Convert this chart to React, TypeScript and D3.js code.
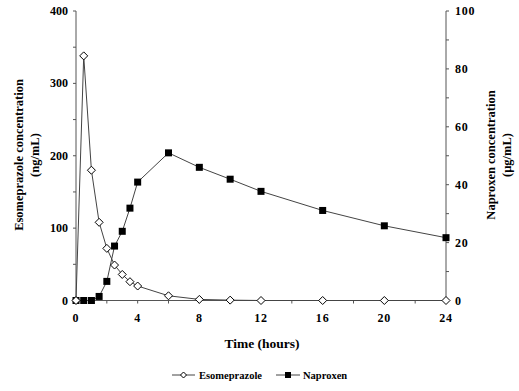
import React from "react";
import * as d3 from "d3";

const times = [0, 0.5, 1, 1.5, 2, 2.5, 3, 3.5, 4, 6, 8, 10, 12, 16, 20, 24];
const esomeprazole = [0, 338, 180, 108, 72, 49, 36, 26, 20, 6.5, 1.5, 0.5, 0, 0, 0, 0];
const naproxen = [0, 0, 0, 1.4, 6.6, 18.8, 23.9, 31.9, 40.9, 51, 46, 41.9, 37.7, 31.1, 25.8, 21.7];
const xTicks = [0, 4, 8, 12, 16, 20, 24];
const leftTicks = [0, 100, 200, 300, 400];
const rightTicks = [0, 20, 40, 60, 80, 100];

const W = 519;
const H = 391;
const font = "'Liberation Serif', 'Times New Roman', serif";
const axisColor = "#555";

export default function App() {
  const x = d3.scaleLinear().domain([0, 24]).range([76, 446]);
  const yL = d3.scaleLinear().domain([0, 400]).range([300.5, 11]);
  const yR = d3.scaleLinear().domain([0, 100]).range([300.5, 11]);

  const esoPts = times.map((t, i) => [x(t), yL(esomeprazole[i])] as [number, number]);
  const napPts = times.map((t, i) => [x(t), yR(naproxen[i])] as [number, number]);
  const line = d3.line();

  const diamond = (cx: number, cy: number, r = 4) =>
    `M${cx},${cy - r}L${cx + r},${cy}L${cx},${cy + r}L${cx - r},${cy}Z`;

  return (
    <svg
      width={W}
      height={H}
      style={{ position: "absolute", left: 0, top: 0, background: "#fff" }}
      fontFamily={font}
      fontWeight="bold"
    >
      {/* axes */}
      <line x1={x(0)} x2={x(24)} y1={yL(0)} y2={yL(0)} stroke={axisColor} />
      <line x1={x(0)} x2={x(0)} y1={yL(0)} y2={yL(400)} stroke={axisColor} />
      <line x1={x(24)} x2={x(24)} y1={yR(0)} y2={yR(100)} stroke={axisColor} />

      {/* bottom ticks every 2h */}
      {d3.range(0, 25, 2).map((t) => (
        <line key={"xt" + t} x1={x(t)} x2={x(t)} y1={yL(0)} y2={yL(0) + 3} stroke={axisColor} />
      ))}
      {xTicks.map((t) => (
        <text key={"xl" + t} x={x(t)} y={322} textAnchor="middle" fontSize={12} letterSpacing={0.8}>
          {t}
        </text>
      ))}

      {/* left ticks every 50 */}
      {d3.range(0, 401, 50).map((v) => (
        <line key={"lt" + v} x1={x(0) - 3} x2={x(0)} y1={yL(v)} y2={yL(v)} stroke={axisColor} />
      ))}
      {leftTicks.map((v) => (
        <text key={"ll" + v} x={68} y={yL(v) + 4} textAnchor="end" fontSize={12}>
          {v}
        </text>
      ))}

      {/* right ticks every 10 */}
      {d3.range(0, 101, 10).map((v) => (
        <line key={"rt" + v} x1={x(24)} x2={x(24) + 3} y1={yR(v)} y2={yR(v)} stroke={axisColor} />
      ))}
      {rightTicks.map((v) => (
        <text key={"rl" + v} x={455} y={yR(v) + 4} textAnchor="start" fontSize={12} letterSpacing={0.8}>
          {v}
        </text>
      ))}

      {/* axis titles */}
      <text transform="translate(23,155) rotate(-90)" textAnchor="middle" fontSize={12.5}>
        Esomeprazole concentration
      </text>
      <text transform="translate(39,155) rotate(-90)" textAnchor="middle" fontSize={12.5}>
        (ng/mL)
      </text>
      <text transform="translate(495,155) rotate(-90)" textAnchor="middle" fontSize={12.5}>
        Naproxen concentration
      </text>
      <text transform="translate(511,155) rotate(-90)" textAnchor="middle" fontSize={12.5}>
        (µg/mL)
      </text>
      <text x={262} y={348} textAnchor="middle" fontSize={13.5}>
        Time (hours)
      </text>

      {/* series lines */}
      <path d={line(napPts) ?? ""} fill="none" stroke="#444" strokeWidth={1} />
      <path d={line(esoPts) ?? ""} fill="none" stroke="#444" strokeWidth={1} />

      {/* markers */}
      {napPts.map(([cx, cy], i) => (
        <rect key={"n" + i} x={cx - 3.5} y={cy - 3.5} width={7} height={7} fill="#000" />
      ))}
      {esoPts.map(([cx, cy], i) => (
        <path key={"e" + i} d={diamond(cx, cy)} fill="#fff" stroke="#000" strokeWidth={1} />
      ))}

      {/* legend */}
      <g fontSize={10.5}>
        <line x1={172} x2={195} y1={375} y2={375} stroke="#444" />
        <path d={diamond(183.5, 375, 3)} fill="#fff" stroke="#000" />
        <text x={199} y={379}>Esomeprazole</text>
        <line x1={276} x2={300} y1={375} y2={375} stroke="#444" />
        <rect x={285} y={372} width={6} height={6} fill="#000" />
        <text x={303} y={379}>Naproxen</text>
      </g>
    </svg>
  );
}
